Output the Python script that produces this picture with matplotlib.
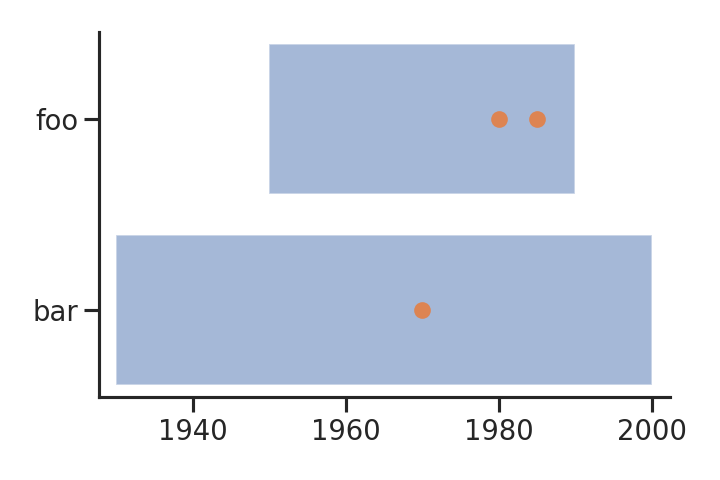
import matplotlib
matplotlib.use("Agg")
import matplotlib.pyplot as plt
import seaborn as sns

categories = ["foo", "bar"]
starts = [1950, 1930]
ends = [1990, 2000]
point_cats = ["foo", "foo", "bar"]
point_years = [1980, 1985, 1970]

sns.set_theme(style="ticks", context="talk")
plt.rcParams['font.family'] = ['DejaVu Sans']

fig = plt.figure(figsize=(6, 4), dpi=120)
ax = fig.add_axes([99.3 / 720, 1 - 396.7 / 480, (670 - 99.3) / 720, (396.7 - 31.7) / 480])

pos = {c: i for i, c in enumerate(categories)}
ypos = [pos[c] for c in categories]
widths = [e - s for s, e in zip(starts, ends)]
ax.barh(ypos, widths, left=starts, height=0.79, color="C0", alpha=0.5,
        edgecolor="white", linewidth=1)
ax.plot(point_years, [pos[c] for c in point_cats], "o", color="C1", linestyle="none")

ax.set_yticks(ypos)
ax.set_yticklabels(categories)
ax.set_xticks([1940, 1960, 1980, 2000])
ax.set_xlim(1927.8, 2002.4)
ax.set_ylim(1.454, -0.457)
sns.despine(ax=ax)

fig.savefig("out.png", dpi=120)
